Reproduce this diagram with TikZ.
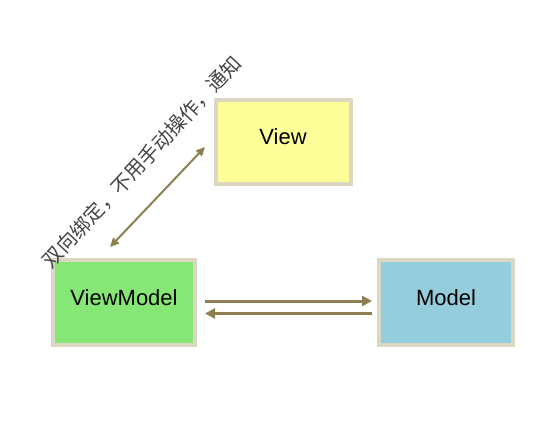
\documentclass[tikz,border=0pt]{standalone}
\usepackage{fontspec}
\setmainfont{Liberation Sans}
\newfontfamily\cjkfont{Noto Sans CJK SC}
\usetikzlibrary{arrows.meta}
\definecolor{boxborder}{HTML}{DCD7C2}
\definecolor{viewfill}{HTML}{FFFF99}
\definecolor{vmfill}{HTML}{86E777}
\definecolor{modelfill}{HTML}{94CDDC}
\definecolor{arrowcol}{HTML}{8C8050}
\definecolor{labelcol}{HTML}{444444}
\begin{document}
\begin{tikzpicture}[x=1pt,y=-1pt,
  box/.style={draw=boxborder, line width=4pt, inner sep=0pt, font=\fontsize{22}{24}\selectfont, text=black},
  hconn/.style={draw=arrowcol, line width=3pt, -{Triangle[length=10pt,width=10pt]}},
  dconn/.style={draw=arrowcol, line width=2pt, {Triangle[length=9pt,width=8pt]}-{Triangle[length=9pt,width=8pt]}},
  lbl/.style={font=\cjkfont\fontsize{20}{22}\selectfont, text=labelcol, inner sep=0pt}]
\useasboundingbox (0,0) rectangle (556,423);
\node[box, fill=viewfill, minimum width=135pt, minimum height=84pt] (view) at (283,141.5) {};
\node[box, fill=vmfill, minimum width=142pt, minimum height=85pt] (vm) at (124,302.5) {};
\node[box, fill=modelfill, minimum width=134pt, minimum height=85pt] (model) at (446,302.5) {};
\node[font=\fontsize{22}{24}\selectfont] (viewt) at (283,137) {View};
\node[font=\fontsize{22}{24}\selectfont] (vmt) at (124,298) {ViewModel};
\node[font=\fontsize{22}{24}\selectfont] (modelt) at (446,298) {Model};
\coordinate (d1) at (110,247);
\coordinate (d2) at (205,147);
\coordinate (a1) at (205,301);
\coordinate (a2) at (372,301);
\coordinate (b1) at (372,313.5);
\coordinate (b2) at (205,313.5);
\draw[dconn] (d1) -- (d2);
\draw[hconn] (a1) -- (a2);
\draw[hconn] (b1) -- (b2);
\node[lbl, rotate=47] (lab) at (142,162) {双向绑定，不用手动操作，通知};
\end{tikzpicture}
\end{document}
